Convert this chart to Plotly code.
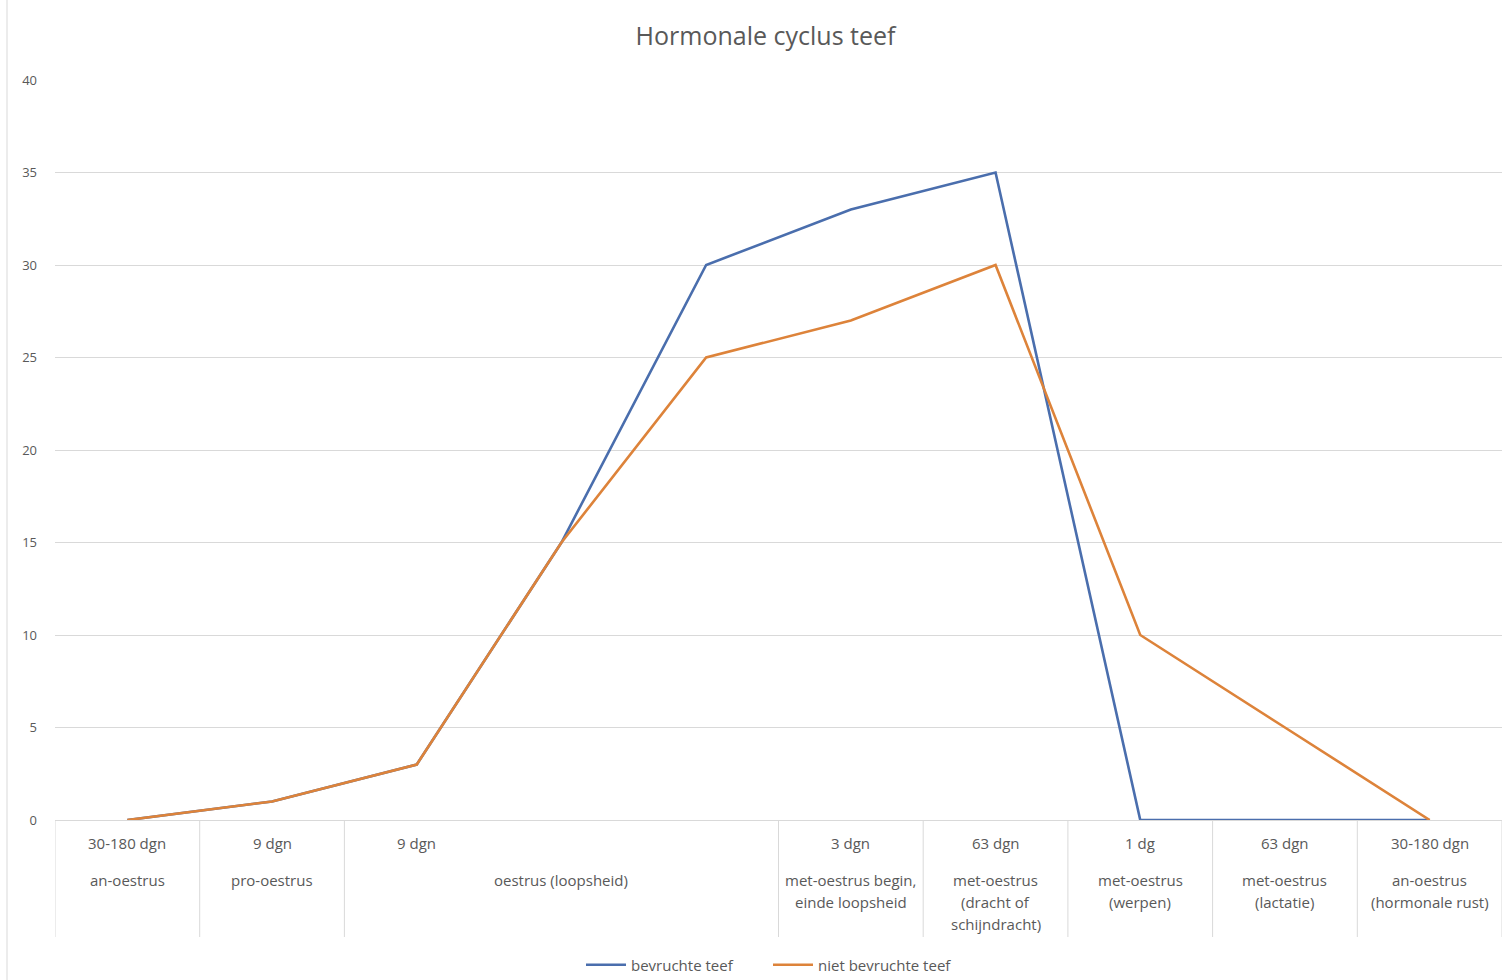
import plotly.graph_objects as go

# Fases van de cyclus (onderste rij van de as) en de duur per punt (bovenste rij)
phases = [
    "an-oestrus",
    "pro-oestrus",
    "oestrus (loopsheid)",
    "oestrus (loopsheid)",
    "oestrus (loopsheid)",
    "met-oestrus begin,<br>einde loopsheid",
    "met-oestrus<br>(dracht of<br>schijndracht)",
    "met-oestrus<br>(werpen)",
    "met-oestrus<br>(lactatie)",
    "an-oestrus<br>(hormonale rust)",
]
durations = ["30-180 dgn", "9 dgn", "9 dgn", "", "", "3 dgn", "63 dgn", "1 dg", "63 dgn", "30-180 dgn"]

bevrucht = [0, 1, 3, 15, 30, 33, 35, 0, 0, 0]
niet_bevrucht = [0, 1, 3, 15, 25, 27, 30, 10, 5, 0]

TXT = "#595959"
GRID = "#d9d9d9"
FONT = "Open Sans"
BLUE = "#4A6EAD"
ORANGE = "#DD833A"
W, H = 1507, 980
M_L, M_R, M_T, M_B = 55, 5, 80, 160
plot_w = W - M_L - M_R
plot_h = H - M_T - M_B

xs = list(range(len(phases)))

fig = go.Figure()
fig.add_trace(go.Scatter(x=xs, y=bevrucht, mode="lines", name="bevruchte teef",
                         line=dict(color=BLUE, width=2.6)))
fig.add_trace(go.Scatter(x=xs, y=niet_bevrucht, mode="lines", name="niet bevruchte teef",
                         line=dict(color=ORANGE, width=2.6)))

# groepen van opeenvolgende gelijke fasen
groups = []
start = 0
for i in range(1, len(phases) + 1):
    if i == len(phases) or phases[i] != phases[start]:
        groups.append((start, i - 1, phases[start]))
        start = i

div_bottom = -(937 - (H - M_B)) / plot_h

shapes = []
bounds = sorted({g[0] - 0.5 for g in groups} | {groups[-1][1] + 0.5})
for b in bounds:
    shapes.append(dict(type="line", xref="x", yref="paper", x0=b, x1=b, y0=0, y1=div_bottom,
                       line=dict(color=GRID, width=1)))
# kader links
shapes.append(dict(type="line", xref="paper", yref="paper", x0=-48 / plot_w,
                   x1=-48 / plot_w, y0=-M_B / plot_h, y1=1 + M_T / plot_h,
                   line=dict(color=GRID, width=1)))

label_font = dict(size=15, color=TXT, family=FONT)
LINE_GAP = 22

annotations = []
for i, d in enumerate(durations):
    if d:
        annotations.append(dict(x=i, y=0, xref="x", yref="y", text=d, showarrow=False,
                                yanchor="middle", yshift=-23, font=label_font))
for s, e, label in groups:
    for k, line in enumerate(label.split("<br>")):
        annotations.append(dict(x=(s + e) / 2, y=0, xref="x", yref="y", text=line, showarrow=False,
                                yanchor="middle", yshift=-(60 + k * LINE_GAP), font=label_font))

fig.update_layout(
    width=W, height=H,
    margin=dict(l=M_L, r=M_R, t=M_T, b=M_B, autoexpand=False),
    paper_bgcolor="white", plot_bgcolor="white",
    title=dict(text="Hormonale cyclus teef", x=0.508, xanchor="center", y=1 - 36 / H, yanchor="middle",
               font=dict(size=25, color=TXT, family=FONT)),
    xaxis=dict(range=[-0.5, len(phases) - 0.5], showticklabels=False, showgrid=False,
               zeroline=False, showline=False, fixedrange=True),
    yaxis=dict(range=[0, 40], dtick=5, gridcolor=GRID, gridwidth=1, zeroline=True,
               zerolinecolor=GRID, zerolinewidth=1, showline=False,
               tickfont=dict(size=13, color=TXT, family=FONT), ticks="", ticklabelstandoff=17),
    legend=dict(orientation="h", x=(768 - M_L) / plot_w, xanchor="center", yref="container",
                y=1 - 965 / H, yanchor="middle", font=dict(size=15, color=TXT, family=FONT),
                itemwidth=40, entrywidth=132, entrywidthmode="pixels"),
    shapes=shapes,
    annotations=annotations,
    showlegend=True,
)

fig.write_html("out.html")
